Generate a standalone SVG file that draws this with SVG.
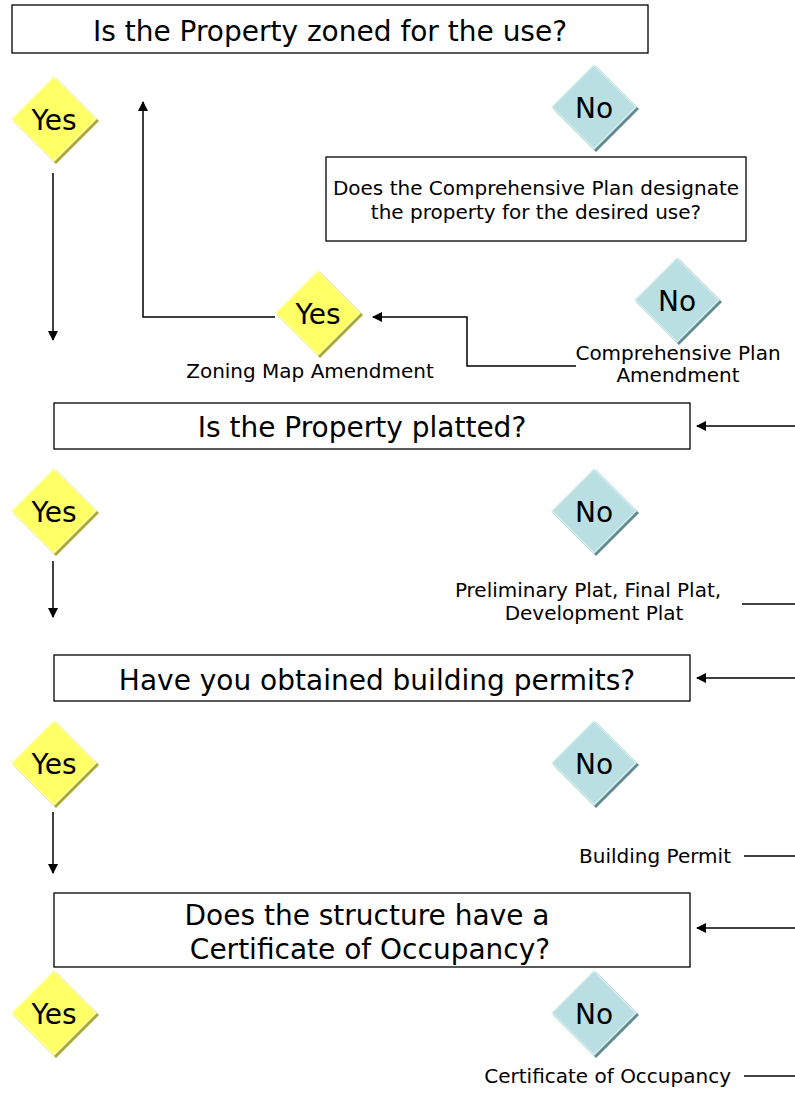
<svg xmlns="http://www.w3.org/2000/svg" width="795" height="1116" viewBox="0 0 795 1116">
<style>
text{font-family:"DejaVu Sans","Liberation Sans",sans-serif;fill:#000}
.box{fill:#fff;stroke:#000;stroke-width:1.3}
.q{font-size:28px;text-anchor:middle}
.lbl{font-size:20px;text-anchor:middle}
.lr{font-size:20px;text-anchor:end}
.dt{font-size:28px;text-anchor:middle}
.ys{fill:#a8a838}.yf{fill:#ffff66}.yh{fill:#ffffa8}
.ns{fill:#5f8a8e}.nf{fill:#b9dfe2}.nh{fill:#d8eff1}
.ln{fill:none;stroke:#000;stroke-width:1.5}
</style>
<defs>
<marker id="ah" markerWidth="10" markerHeight="10" refX="9" refY="5" orient="auto" markerUnits="userSpaceOnUse">
<path d="M0,0 L10,5 L0,10 z" fill="#000"/>
</marker>
<g id="yesD"><polygon class="ys" points="2,-41 45,2 2,45 -41,2"/><polygon class="yh" points="0,-43 43,0 0,43 -43,0"/><polygon class="yf" points="0,-41 41,0 0,41 -41,0"/></g>
<g id="noD"><polygon class="ns" points="2,-41 45,2 2,45 -41,2"/><polygon class="nh" points="0,-43 43,0 0,43 -43,0"/><polygon class="nf" points="0,-41 41,0 0,41 -41,0"/></g>
</defs>

<g id="q1"><rect class="box" x="12" y="5" width="636" height="48"/><text class="q" x="330" y="41">Is the Property zoned for the use?</text></g>
<g id="yes1"><use href="#yesD" x="54" y="119"/><text class="dt" x="54" y="130">Yes</text></g>
<g id="no1"><use href="#noD" x="594" y="107"/><text class="dt" x="594" y="118">No</text></g>
<g id="q1b"><rect class="box" x="326" y="157" width="420" height="84"/><text class="lbl" x="536" y="195">Does the Comprehensive Plan designate</text><text class="lbl" x="536" y="219">the property for the desired use?</text></g>
<g id="yes2"><use href="#yesD" x="318" y="313"/><text class="dt" x="318" y="324">Yes</text><text class="lbl" x="310" y="378">Zoning Map Amendment</text></g>
<g id="no2"><use href="#noD" x="677" y="300"/><text class="dt" x="677" y="311">No</text><text class="lbl" x="678" y="360">Comprehensive Plan</text><text class="lbl" x="678" y="382">Amendment</text></g>

<g id="q2"><rect class="box" x="54" y="403" width="636" height="46"/><text class="q" x="362" y="437">Is the Property platted?</text></g>
<g id="yes3"><use href="#yesD" x="54" y="511"/><text class="dt" x="54" y="522">Yes</text></g>
<g id="no3"><use href="#noD" x="594" y="511"/><text class="dt" x="594" y="522">No</text><text class="lbl" x="588" y="597">Preliminary Plat, Final Plat,</text><text class="lbl" x="594" y="620">Development Plat</text></g>

<g id="q3"><rect class="box" x="54" y="655" width="636" height="46"/><text class="q" x="377" y="690">Have you obtained building permits?</text></g>
<g id="yes4"><use href="#yesD" x="54" y="763"/><text class="dt" x="54" y="774">Yes</text></g>
<g id="no4"><use href="#noD" x="594" y="763"/><text class="dt" x="594" y="774">No</text><text class="lr" x="731" y="863">Building Permit</text></g>

<g id="q4"><rect class="box" x="54" y="893" width="636" height="74"/><text class="q" x="367" y="925">Does the structure have a</text><text class="q" x="370" y="959">Certificate of Occupancy?</text></g>
<g id="yes5"><use href="#yesD" x="54" y="1013"/><text class="dt" x="54" y="1024">Yes</text></g>
<g id="no5"><use href="#noD" x="594" y="1013"/><text class="dt" x="594" y="1024">No</text><text class="lr" x="731" y="1083">Certificate of Occupancy</text></g>

<g id="connectors">
<path class="ln" d="M53,173 V340" marker-end="url(#ah)"/>
<path class="ln" d="M275,317 H143 V102" marker-end="url(#ah)"/>
<path class="ln" d="M576,366 H467 V317 H373" marker-end="url(#ah)"/>
<path class="ln" d="M795,426 H697" marker-end="url(#ah)"/>
<path class="ln" d="M53,561 V617" marker-end="url(#ah)"/>
<path class="ln" d="M742,604 H795"/>
<path class="ln" d="M795,678 H697" marker-end="url(#ah)"/>
<path class="ln" d="M53,812 V873" marker-end="url(#ah)"/>
<path class="ln" d="M744,856 H795"/>
<path class="ln" d="M795,928 H697" marker-end="url(#ah)"/>
<path class="ln" d="M744,1076 H795"/>
</g>
</svg>
